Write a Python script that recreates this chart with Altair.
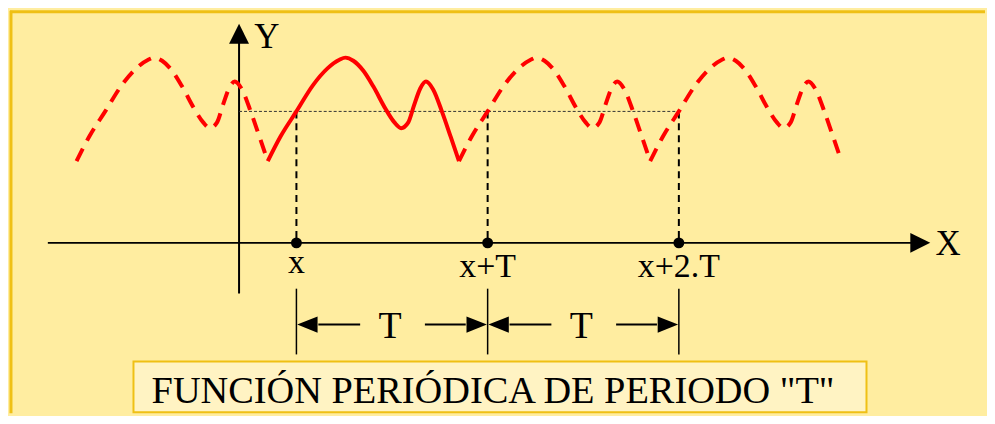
import altair as alt
import pandas as pd

# ---- data (x in axis units, y in axis units) ----
# one period of the function, measured from a minimum
period_u = [0, 0.27, 0.60, 0.94, 1.25, 1.50, 1.625, 1.79, 2.00, 2.21, 2.46, 2.65, 2.79,
            2.94, 3.06, 3.19, 3.31, 3.46, 3.65, 3.83, 4.0]
period_y = [1.71, 2.23, 2.75, 3.29, 3.65, 3.83, 3.875, 3.81, 3.60, 3.27, 2.81, 2.52, 2.40,
            2.52, 2.875, 3.23, 3.375, 3.21, 2.73, 2.21, 1.71]
T = 4.0
period_starts = [-3.4, 0.6, 4.6, 8.6]
period_solid = [False, True, False, False]

point_x = [1.2, 5.2, 9.2]
point_labels = ["x", "x+T", "x+2.T"]
label_base_px = [271, 275, 275]
level_y = 2.75
title_text = 'FUNCIÓN PERIÓDICA DE PERIODO "T"'

# ---- layout constants ----
PX = 48.0            # pixels per axis unit
W, H = 979, 404
X0, Y0 = 230, 233    # origin position inside plot
xdom = [-X0 / PX, (W - X0) / PX]
ydom = [-(H - Y0) / PX, Y0 / PX]
p = 1 / PX

RED = "#FF0000"
GOLD = "#EFC015"
BG = "#FFEDA0"
BOX = "#FFF3C3"
FONT = "Liberation Serif"

xs = alt.Scale(domain=xdom, nice=False, zero=False)
ys = alt.Scale(domain=ydom, nice=False, zero=False)
X = lambda f: alt.X(f, scale=xs, axis=None)
Y = lambda f: alt.Y(f, scale=ys, axis=None)

rows = []
for i, (s, solid) in enumerate(zip(period_starts, period_solid)):
    for u, y in zip(period_u, period_y):
        rows.append({"x": s + u, "y": y, "per": i, "solid": solid})
curve = pd.DataFrame(rows)

solid_line = alt.Chart(curve[curve.solid]).mark_line(
    interpolate="monotone", color=RED, strokeWidth=4
).encode(x=X("x:Q"), y=Y("y:Q"), detail="per:N", order="x:Q")
dashed_line = alt.Chart(curve[~curve.solid]).mark_line(
    interpolate="monotone", color=RED, strokeWidth=4, strokeDash=[14, 9]
).encode(x=X("x:Q"), y=Y("y:Q"), detail="per:N", order="x:Q")

# axes
axes = pd.DataFrame([
    {"x": -4.0, "x2": 14.3, "y": 0.0, "y2": 0.0},
    {"x": 0.0, "x2": 0.0, "y": -1.06, "y2": 4.35},
])
axis_rules = alt.Chart(axes).mark_rule(color="black", strokeWidth=2).encode(
    x=X("x:Q"), x2="x2:Q", y=Y("y:Q"), y2="y2:Q")

heads = pd.DataFrame([
    {"x": (922 - 238) / PX, "y": 0.0, "shape": "M1,0L-1,-1L-1,1Z"},
    {"x": 0.0, "y": (241 - 31) / PX, "shape": "M0,-1L1,1L-1,1Z"},
])
head_marks = alt.Chart(heads).mark_point(filled=True, color="black", opacity=1, size=400).encode(
    x=X("x:Q"), y=Y("y:Q"), shape=alt.Shape("shape:N", scale=None))

axis_names = pd.DataFrame([
    {"x": (950 - 238) / PX, "y": (241 - 253) / PX, "t": "X"},
    {"x": (266 - 238) / PX, "y": (241 - 45) / PX, "t": "Y"},
])
axis_text = alt.Chart(axis_names).mark_text(font=FONT, fontSize=35, color="black",
                                            baseline="alphabetic").encode(
    x=X("x:Q"), y=Y("y:Q"), text="t:N")

# level line and projections
level = pd.DataFrame([{"x": 0.0, "x2": point_x[-1], "y": level_y}])
level_rule = alt.Chart(level).mark_rule(color="#333333", strokeWidth=1, strokeDash=[3, 2]).encode(
    x=X("x:Q"), x2="x2:Q", y=Y("y:Q"))

pts = pd.DataFrame({"x": point_x, "lab": point_labels, "top": level_y, "bot": 0.0,
                    "lo1": (241 - 287) / PX, "lo2": (241 - 353) / PX,
                    "ly": [(241 - b) / PX for b in label_base_px]})
proj = alt.Chart(pts).mark_rule(color="black", strokeWidth=2, strokeDash=[7, 5]).encode(
    x=X("x:Q"), y=Y("top:Q"), y2="bot:Q")
dots = alt.Chart(pts).mark_circle(color="black", opacity=1, size=120).encode(
    x=X("x:Q"), y=Y("bot:Q"))
labels = alt.Chart(pts).mark_text(font=FONT, fontSize=34, color="black",
                                  baseline="alphabetic").encode(
    x=X("x:Q"), y=Y("ly:Q"), text="lab:N")
lower = alt.Chart(pts).mark_rule(color="black", strokeWidth=1.5).encode(
    x=X("x:Q"), y=Y("lo1:Q"), y2="lo2:Q")

# T dimension arrows
ay = (241 - 323) / PX
seg_rows, head_rows, t_rows = [], [], []
for a, b in zip(point_x[:-1], point_x[1:]):
    seg_rows.append({"x": a + 22 * p, "x2": a + 64 * p, "y": ay})
    seg_rows.append({"x": b - 63 * p, "x2": b - 22 * p, "y": ay})
    head_rows.append({"x": a + 11 * p, "y": ay, "shape": "M-1,0L1,-0.8L1,0.8Z"})
    head_rows.append({"x": b - 11 * p, "y": ay, "shape": "M1,0L-1,-0.8L-1,0.8Z"})
    t_rows.append({"x": (a + b) / 2 - 2 * p, "y": (241 - 337) / PX, "t": "T"})
segs = alt.Chart(pd.DataFrame(seg_rows)).mark_rule(color="black", strokeWidth=2).encode(
    x=X("x:Q"), x2="x2:Q", y=Y("y:Q"))
dim_heads = alt.Chart(pd.DataFrame(head_rows)).mark_point(
    filled=True, color="black", opacity=1, size=420).encode(
    x=X("x:Q"), y=Y("y:Q"), shape=alt.Shape("shape:N", scale=None))
t_text = alt.Chart(pd.DataFrame(t_rows)).mark_text(font=FONT, fontSize=38, color="black",
                                                   baseline="alphabetic").encode(
    x=X("x:Q"), y=Y("y:Q"), text="t:N")

# title box (bottom edge at the bottom of the drawing)
box = pd.DataFrame([{"x": (132 - 238) / PX, "x2": (868 - 238) / PX,
                     "y": (241 - 360) / PX, "y2": ydom[0] + 1 * p}])
box_rect = alt.Chart(box).mark_rect(fill=BOX, stroke=GOLD, strokeWidth=2).encode(
    x=X("x:Q"), x2="x2:Q", y=Y("y:Q"), y2="y2:Q")
title = pd.DataFrame([{"x": (493 - 238) / PX, "y": (241 - 402) / PX, "t": title_text}])
title_mark = alt.Chart(title).mark_text(font=FONT, fontSize=38.5, color="black",
                                        baseline="alphabetic").encode(
    x=X("x:Q"), y=Y("y:Q"), text="t:N")

# frame (top and left edge)
frame_top = alt.Chart(pd.DataFrame([{"a": 0}])).mark_rule(color=GOLD, strokeWidth=3).encode(
    x=alt.value(0), x2=alt.value(W), y=alt.value(1))
frame_left = alt.Chart(pd.DataFrame([{"a": 0}])).mark_rule(color=GOLD, strokeWidth=3).encode(
    x=alt.value(1), y=alt.value(0), y2=alt.value(H))

chart = alt.layer(
    frame_top, frame_left, box_rect, title_mark,
    axis_rules, head_marks, axis_text,
    level_rule, proj, lower, segs, dim_heads, t_text,
    dashed_line, solid_line, dots, labels,
).properties(width=W, height=H, background=BG, padding=0).configure_view(stroke=None)

chart.save("out.html", embed_options={"renderer": "svg", "actions": False})
